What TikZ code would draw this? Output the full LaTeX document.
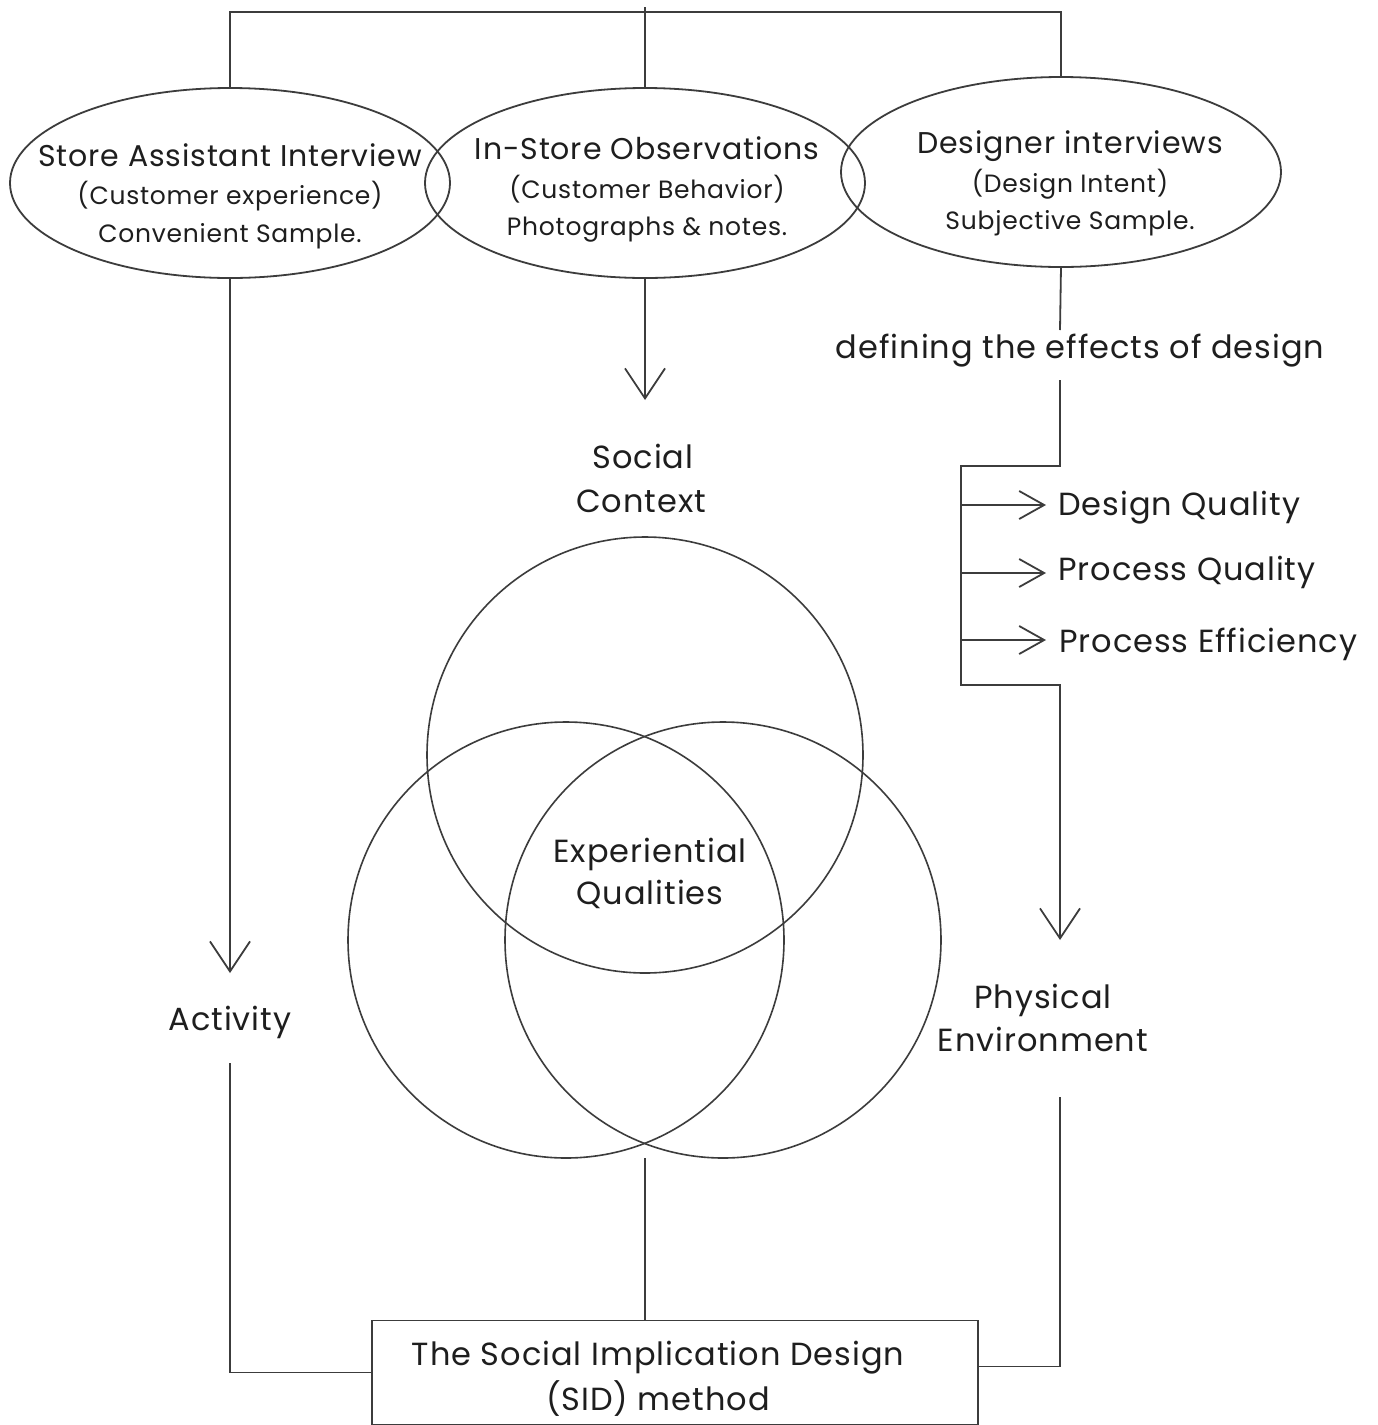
\documentclass[tikz,border=0pt]{standalone}
\usepackage{fontspec}
\setmainfont{Poppins}[LetterSpace=3]
\usetikzlibrary{shapes.geometric,arrows.meta}
\definecolor{ln}{HTML}{3C3C3C}
\definecolor{tx}{HTML}{1E1E1E}
\begin{document}
\begin{tikzpicture}[x=1pt,y=-1pt,
  wire/.style={draw=ln, line width=1.8pt},
  arr/.style={wire, -{Straight Barb[length=30pt,width=40pt]}},
  barr/.style={wire, -{Straight Barb[length=25pt,width=28pt]}},
  oval/.style={ellipse, draw=ln, line width=1.8pt, minimum width=440pt, minimum height=190pt, inner sep=0pt, outer sep=0pt},
  ring/.style={circle, draw=ln, line width=1.6pt, minimum size=436pt, inner sep=0pt, outer sep=0pt},
  head/.style={anchor=base, inner sep=0pt, text=tx, font=\fontsize{30}{35}\selectfont},
  sub/.style={anchor=base, inner sep=0pt, text=tx, font=\fontsize{25}{30}\selectfont},
  lab/.style={anchor=base, inner sep=0pt, text=tx, font=\fontsize{32}{38}\selectfont}]
\fill[white] (0,0) rectangle (1377,1425);
\useasboundingbox (0,0) rectangle (1377,1425);

% data-collection ovals
\node[oval] (e1) at (230,183) {};
\node[oval] (e2) at (645,183) {};
\node[oval] (e3) at (1061,172) {};

\node[head] (t1a) at (230,166) {Store Assistant Interview};
\node[sub]  (t1b) at (230,204) {(Customer experience)};
\node[sub]  (t1c) at (230,242) {Convenient Sample.};
\node[head] (t2a) at (647,159) {In-Store Observations};
\node[sub]  (t2b) at (647,198) {(Customer Behavior)};
\node[sub]  (t2c) at (647,235) {Photographs \& notes.};
\node[head] (t3a) at (1070,153) {Designer interviews};
\node[sub]  (t3b) at (1070,192) {(Design Intent)};
\node[sub]  (t3c) at (1070,229) {Subjective Sample.};

% bar joining the three ovals
\coordinate (topbar) at (645,12);
\coordinate (apex) at (645,7);
\draw[wire] (e1.north) -- (e1.north |- topbar) -- (e3.north |- topbar) -- (e3.north);
\draw[wire] (e2.north) -- (apex);

% Venn diagram
\node[ring] (cs) at (645,755) {};
\node[ring] (ca) at (566,940) {};
\node[ring] (ce) at (723,940) {};

% labels
\node[lab] (sc1) at (643,468) {Social};
\node[lab] (sc2) at (641,512) {Context};
\node[lab] (eq1) at (650,862) {Experiential};
\node[lab] (eq2) at (650,904) {Qualities};
\node[lab] (act) at (230,1030) {Activity};
\node[lab] (pe1) at (1043,1008) {Physical};
\node[lab] (pe2) at (1043,1051) {Environment};
\node[lab] (def) at (1080,358) {defining the effects of design};
\node[lab, anchor=base west] (dq) at (1058,515) {Design Quality};
\node[lab, anchor=base west] (pq) at (1058,580) {Process Quality};
\node[lab, anchor=base west] (pf) at (1059,652) {Process Efficiency};

% method box
\node[draw=ln, line width=1.8pt, minimum width=606pt, minimum height=104pt, inner sep=0pt, outer sep=0pt] (sid) at (675,1372.5) {};
\node[lab] (sidA) at (658,1365) {The Social Implication Design};
\node[lab] (sidB) at (658,1410) {(SID) method};

% left branch
\coordinate (actTip) at (230,973);
\coordinate (actLow) at (230,1063);
\draw[arr] (e1.south) -- (actTip);
\draw[wire] (actLow) |- (sid.west);

% middle branch
\coordinate (scTip) at (645,400);
\coordinate (vennBase) at (645,1158);
\draw[arr] (e2.south) -- (scTip);
\draw[wire] (vennBase) -- (vennBase |- sid.north);

% right branch
\coordinate (defTop) at (1060,330);
\coordinate (defBot) at (1060,380);
\coordinate (brTop) at (961,466);
\coordinate (brBot) at (961,685);
\coordinate (envTip) at (1060,940);
\coordinate (envLow) at (1060,1097);
\draw[wire] (e3.south) -- (defTop);
\draw[arr] (defBot) |- (brTop) -- (brBot) -| (envTip);
\coordinate (j1) at (961,505);
\coordinate (j2) at (961,573);
\coordinate (j3) at (961,640);
\draw[barr] (j1) -- ([xshift=-12pt]dq.west |- j1);
\draw[barr] (j2) -- ([xshift=-12pt]pq.west |- j2);
\draw[barr] (j3) -- ([xshift=-13pt]pf.west |- j3);
\draw[wire] (envLow) |- ([yshift=6pt]sid.east);
\end{tikzpicture}
\end{document}
